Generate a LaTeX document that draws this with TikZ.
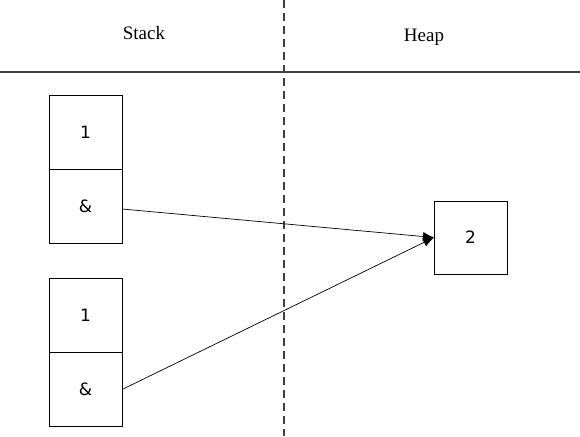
\documentclass[tikz,border=0pt]{standalone}
\usepackage{fontspec}
\setmainfont{Liberation Serif}
\newfontfamily\cellfont{DejaVu Sans}
\usetikzlibrary{arrows.meta,positioning}
\definecolor{LineGray}{HTML}{404040}

\begin{document}
\begin{tikzpicture}[
	x=1pt, y=-1pt,
	cell/.style={draw, line width=0.8pt, minimum width=73pt, minimum height=74pt, inner sep=0pt, outer sep=0pt, font=\cellfont\fontsize{17}{17}\selectfont},
	arrow/.style={-{Latex[length=11pt,width=9pt]}, line width=0.7pt},
	title/.style={font=\fontsize{19}{19}\selectfont}
]
\useasboundingbox (0,0) rectangle (580,436);

% frame
\draw[LineGray, line width=1.2pt] (0,72) -- (580,72);
\draw[LineGray, line width=1.3pt, dash pattern=on 8pt off 5pt] (284,0) -- (284,436);
\node[title] (stack) at (144,33) {Stack};
\node[title] (heap) at (424,37) {Heap};

% stack frames
\node[cell] (val1) at (85.5,132) {1};
\node[cell, below=0pt of val1] (ref1) {\&};
\node[cell] (val2) at (85.5,315.5) {1};
\node[cell, below=0pt of val2] (ref2) {\&};

% heap
\node[cell, minimum height=73pt] (obj) at (470.5,237.5) {2};

\draw[arrow] ([yshift=-3pt]ref1.east) -- (obj.west);
\draw[arrow] (ref2.east) -- (obj.west);
\end{tikzpicture}
\end{document}
